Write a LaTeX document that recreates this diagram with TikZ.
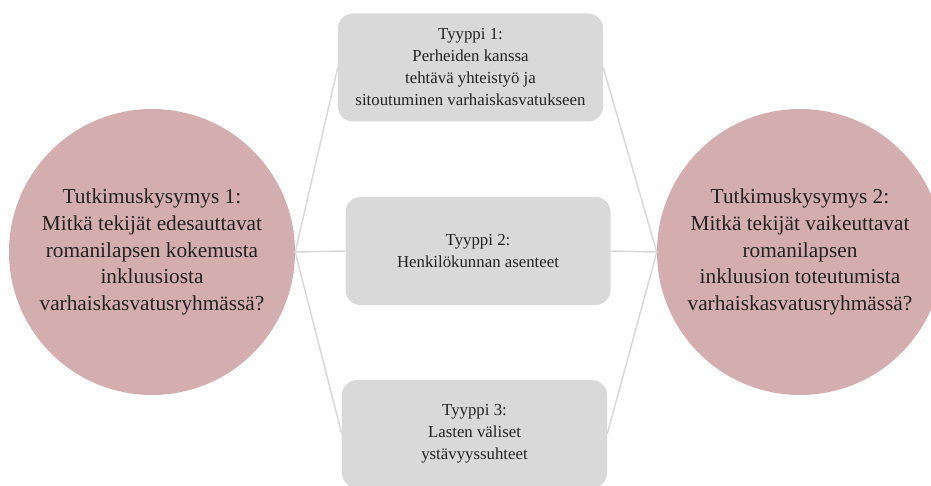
\documentclass[tikz,border=0pt]{standalone}
\usepackage{fontspec}
\setmainfont{Liberation Serif}
\usepackage{tikz}
\definecolor{rosefill}{HTML}{D4AEAE}
\definecolor{boxfill}{HTML}{D9D9D9}
\definecolor{linkgray}{HTML}{D9D9D9}
\definecolor{inkgray}{HTML}{222222}
\tikzstyle{question}=[circle, fill=rosefill, minimum size=286pt, inner sep=0pt, align=center, text=inkgray, font=\fontsize{21.3}{26.8}\selectfont]
\tikzstyle{typebox}=[rectangle, rounded corners=15pt, fill=boxfill, minimum width=265pt, minimum height=108pt, inner sep=0pt, align=center, text=inkgray, font=\fontsize{16.8}{22}\selectfont]
\tikzstyle{link}=[draw=linkgray, line width=1.5pt]

\begin{document}
\begin{tikzpicture}[x=1pt, y=1pt]
		   \useasboundingbox (0,0) rectangle (931,485);
		   \begin{scope}
			   \node (q1) at (152, 233)[question] {Tutkimuskysymys 1:\\Mitkä tekijät edesauttavat\\romanilapsen kokemusta\\inkluusiosta\\varhaiskasvatusryhmässä?};
			   \node (q2) at (800, 233)[question] {Tutkimuskysymys 2:\\Mitkä tekijät vaikeuttavat\\romanilapsen\\inkluusion toteutumista\\varhaiskasvatusryhmässä?};
			   \node (t1) at (470.5, 417.5)[typebox] {Tyyppi 1:\\Perheiden kanssa\\tehtävä yhteistyö ja\\sitoutuminen varhaiskasvatukseen};
			   \node (t2) at (478, 234)[typebox] {Tyyppi 2:\\Henkilökunnan asenteet};
			   \node (t3) at (474.5, 51)[typebox] {Tyyppi 3:\\Lasten väliset\\ystävyyssuhteet};
		   \end{scope}
		   \begin{scope}
			   \path [link] (q1.east) edge (t1.west);
			   \path [link] (q1.east) edge (t2.west);
			   \path [link] (q1.east) edge (t3.west);
			   \path [link] (t1.east) edge (q2.west);
			   \path [link] (t2.east) edge (q2.west);
			   \path [link] (t3.east) edge (q2.west);
		   \end{scope}
	   \end{tikzpicture}
\end{document}
